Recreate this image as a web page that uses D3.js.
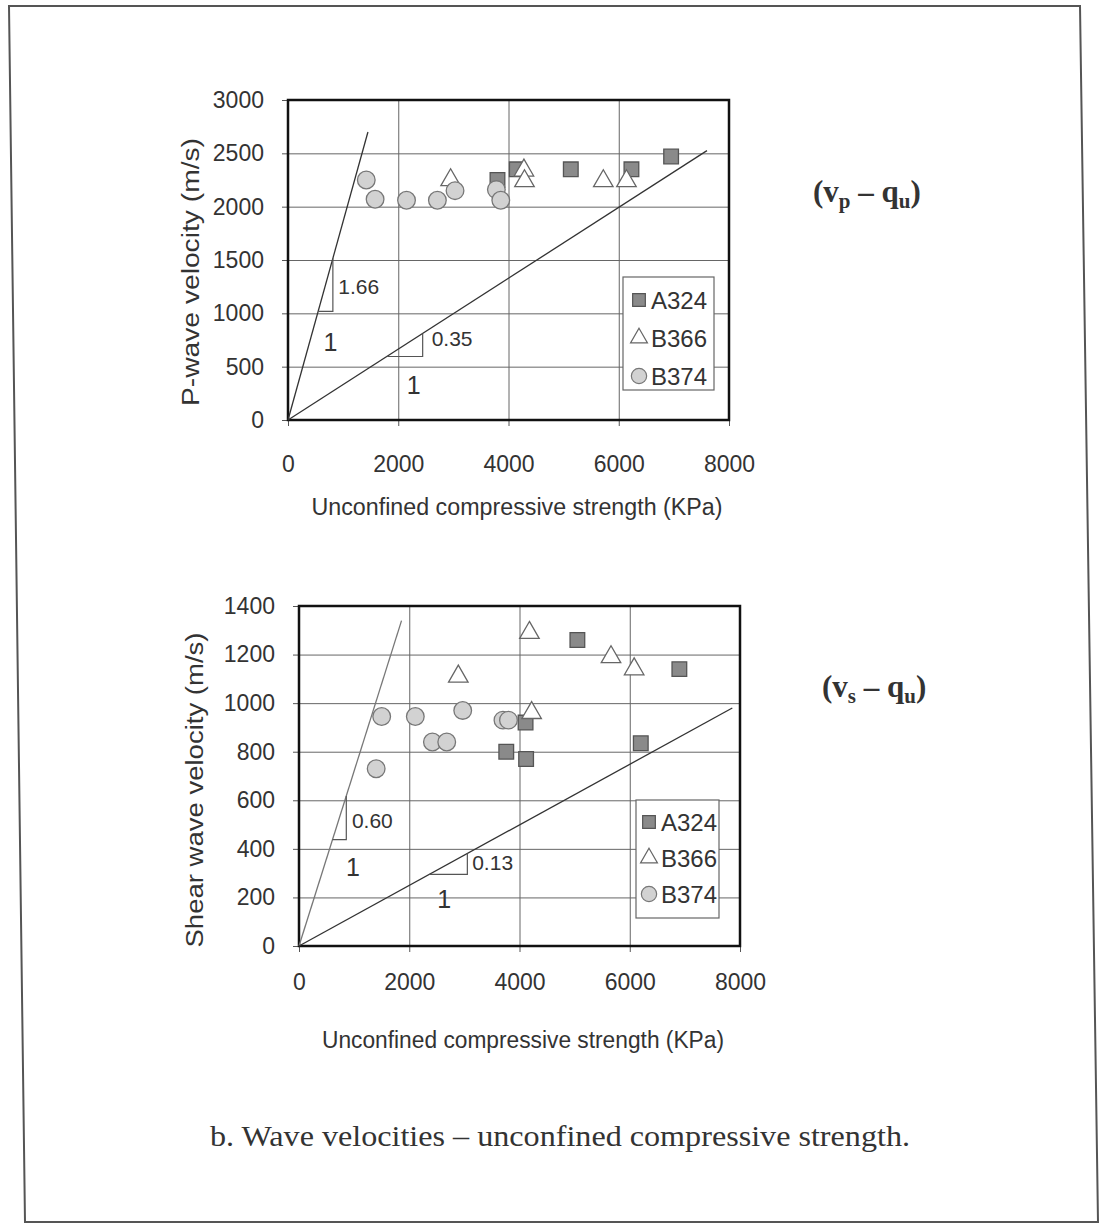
<!DOCTYPE html>
<html>
<head>
<meta charset="utf-8">
<script src="https://cdn.jsdelivr.net/npm/d3@7"></script>
<style>
  body { margin: 0; background: #fff; }
  svg text { font-family: "Liberation Sans", Arial, sans-serif; fill: #333; }
</style>
</head>
<body>
<svg id="chart" width="1118" height="1225"></svg>
<script>
// ---- data ----
const seriesNames = ['A324', 'B366', 'B374'];
const xTicks = [0, 2000, 4000, 6000, 8000];
const vpTicks = [0, 500, 1000, 1500, 2000, 2500, 3000];
const vsTicks = [0, 200, 400, 600, 800, 1000, 1200, 1400];

// P-wave velocity vs qu  [qu (KPa), vp (m/s)]
const vpA324 = [[3800, 2250], [4150, 2350], [5130, 2350], [6230, 2350], [6950, 2470]];
const vpB366 = [[2950, 2250], [4280, 2340], [4290, 2240], [5720, 2240], [6140, 2240]];
const vpB374 = [[1420, 2250], [1580, 2070], [2150, 2060], [2710, 2060], [3030, 2150], [3780, 2160], [3860, 2060]];

// Shear wave velocity vs qu  [qu (KPa), vs (m/s)]
const vsA324 = [[5050, 1260], [6900, 1140], [4110, 920], [3760, 800], [4120, 770], [6200, 835]];
const vsB366 = [[4180, 1290], [2890, 1110], [5660, 1190], [6080, 1140], [4220, 960]];
const vsB374 = [[1400, 730], [1500, 945], [2110, 945], [2420, 840], [2680, 840], [2970, 970], [3700, 930], [3800, 930]];

// bounding lines through the origin: end point [qu, v]
const vpLineEnds = [[1450, 2700], [7600, 2525]];
const vsLineEnds = [[1860, 1340], [7860, 980]];

// slope triangles: [line index, x start, x end]
const vpTriangles = [[0, 547, 814], [1, 1792, 2443]];
const vsTriangles = [[0, 608, 858], [1, 2365, 3054]];

// slope labels: [text, qu, v, kind]
const vpSlopeLabels = [['1.66', 912, 1250, 'rise'], ['1', 769, 725, 'run'], ['0.35', 2606, 765, 'rise'], ['1', 2280, 324, 'run']];
const vsSlopeLabels = [['0.60', 960, 517, 'rise'], ['1', 980, 324, 'run'], ['0.13', 3142, 345, 'rise'], ['1', 2635, 193, 'run']];

const svg = d3.select('#chart');

// outer frame of the scanned page
svg.append('polygon')
  .attr('points', '9,6 1080,6 1098,1222 25,1222')
  .attr('fill', 'none')
  .attr('stroke', '#555')
  .attr('stroke-width', 2);

const markerStyle = {
  A324: {type: d3.symbolSquare, size: 215, fill: '#8a8a8a', stroke: '#555'},
  B366: {type: d3.symbolTriangle, size: 165, fill: '#fff', stroke: '#666'},
  B374: {type: d3.symbolCircle, size: 245, fill: '#d2d2d2', stroke: '#777'}
};

function drawPanel(cfg) {
  const x = d3.scaleLinear().domain([0, 8000]).range([cfg.left, cfg.right]);
  const y = d3.scaleLinear().domain([0, cfg.yMax]).range([cfg.bottom, cfg.top]);
  const g = svg.append('g');

  // grid
  g.append('g')
    .attr('transform', `translate(${cfg.left},0)`)
    .call(d3.axisLeft(y).tickValues(cfg.yTicks).tickSize(-(cfg.right - cfg.left)).tickFormat(''))
    .call(s => s.select('.domain').remove())
    .selectAll('line').attr('stroke', '#666').attr('stroke-width', 1);
  g.append('g')
    .attr('transform', `translate(0,${cfg.top})`)
    .call(d3.axisTop(x).tickValues(xTicks.slice(1, -1)).tickSize(-(cfg.bottom - cfg.top)).tickFormat(''))
    .call(s => s.select('.domain').remove())
    .selectAll('line').attr('stroke', '#666').attr('stroke-width', 1);

  // axes
  const xa = g.append('g')
    .attr('transform', `translate(0,${cfg.bottom})`)
    .call(d3.axisBottom(x).tickValues(xTicks).tickFormat(d3.format('d')).tickSize(6).tickPadding(cfg.xPad));
  const ya = g.append('g')
    .attr('transform', `translate(${cfg.left},0)`)
    .call(d3.axisLeft(y).tickValues(cfg.yTicks).tickFormat(d3.format('d')).tickSize(6).tickPadding(18));
  [xa, ya].forEach(a => {
    a.select('.domain').remove();
    a.selectAll('line').attr('stroke', '#555');
    a.selectAll('text').style('font-size', '23px').attr('fill', '#333');
  });

  // frame
  g.append('rect')
    .attr('x', cfg.left).attr('y', cfg.top)
    .attr('width', cfg.right - cfg.left).attr('height', cfg.bottom - cfg.top)
    .attr('fill', 'none').attr('stroke', '#111').attr('stroke-width', 2.5);

  // bounding lines
  g.selectAll('line.bound').data(cfg.lineEnds).join('line')
    .attr('class', 'bound')
    .attr('x1', x(0)).attr('y1', y(0))
    .attr('x2', d => x(d[0])).attr('y2', d => y(d[1]))
    .attr('stroke', (d, i) => cfg.lineColors[i])
    .attr('stroke-width', 1.3);

  // slope triangles
  g.selectAll('path.tri').data(cfg.triangles).join('path')
    .attr('class', 'tri')
    .attr('d', d => {
      const e = cfg.lineEnds[d[0]];
      const k = e[1] / e[0];
      return `M${x(d[1])},${y(k * d[1])}H${x(d[2])}V${y(k * d[2])}`;
    })
    .attr('fill', 'none').attr('stroke', '#555').attr('stroke-width', 1.2);

  g.selectAll('text.slope').data(cfg.slopeLabels).join('text')
    .attr('class', 'slope')
    .attr('x', d => x(d[1])).attr('y', d => y(d[2]))
    .attr('dy', '0.35em')
    .attr('text-anchor', d => d[3] === 'run' ? 'middle' : 'start')
    .style('font-size', d => d[3] === 'run' ? '25px' : '21px')
    .attr('fill', d => d[3] === 'run' ? '#333' : '#666')
    .text(d => d[0]);

  // markers
  cfg.series.forEach((pts, i) => {
    const st = markerStyle[seriesNames[i]];
    g.append('g').selectAll('path').data(pts).join('path')
      .attr('transform', d => `translate(${x(d[0])},${y(d[1])})`)
      .attr('d', d3.symbol(st.type, st.size))
      .attr('fill', st.fill).attr('stroke', st.stroke).attr('stroke-width', 1.3);
  });

  // legend
  const lg = g.append('g');
  lg.append('rect')
    .attr('x', cfg.legend.x).attr('y', cfg.legend.y)
    .attr('width', cfg.legend.w).attr('height', cfg.legend.h)
    .attr('fill', '#fff').attr('stroke', '#666').attr('stroke-width', 1.2);
  seriesNames.forEach((name, i) => {
    const st = markerStyle[name];
    const ry = cfg.legend.rows[i];
    lg.append('path')
      .attr('transform', `translate(${cfg.legend.mx},${ry})`)
      .attr('d', d3.symbol(st.type, st.size * 0.75))
      .attr('fill', st.fill).attr('stroke', st.stroke).attr('stroke-width', 1.2);
    lg.append('text')
      .attr('x', cfg.legend.tx).attr('y', ry).attr('dy', '0.36em')
      .style('font-size', '24px')
      .text(name);
  });

  // axis titles
  g.append('text')
    .attr('x', cfg.xTitle[0]).attr('y', cfg.xTitle[1])
    .attr('text-anchor', 'middle')
    .attr('textLength', cfg.xTitle[2]).attr('lengthAdjust', 'spacingAndGlyphs')
    .style('font-size', '23px')
    .text('Unconfined compressive strength (KPa)');
  g.append('text')
    .attr('transform', `translate(${cfg.yTitle[0]},${cfg.yTitle[1]}) rotate(-90)`)
    .attr('text-anchor', 'middle')
    .attr('textLength', cfg.yTitle[2]).attr('lengthAdjust', 'spacingAndGlyphs')
    .style('font-size', '23px')
    .text(cfg.yTitleText);

  // relation label
  const rl = g.append('text')
    .attr('x', cfg.relation[0]).attr('y', cfg.relation[1])
    .style('font-family', '"Liberation Serif", "Times New Roman", serif')
    .style('font-weight', 'bold')
    .style('font-size', '31px')
    .attr('fill', '#222');
  rl.append('tspan').text('(v');
  rl.append('tspan').attr('dy', 6).style('font-size', '21px').text(cfg.relationSub);
  rl.append('tspan').attr('dy', -6).text(' \u2013 q');
  rl.append('tspan').attr('dy', 6).style('font-size', '21px').text('u');
  rl.append('tspan').attr('dy', -6).text(')');
}

drawPanel({
  left: 288, right: 729, top: 100, bottom: 420,
  yMax: 3000, yTicks: vpTicks, xPad: 30,
  series: [vpA324, vpB366, vpB374],
  lineEnds: vpLineEnds, lineColors: ['#333', '#333'],
  triangles: vpTriangles, slopeLabels: vpSlopeLabels,
  legend: {x: 623, y: 277, w: 91, h: 113, rows: [300, 338, 376], mx: 639, tx: 651},
  xTitle: [517, 515, 411],
  yTitle: [199, 272, 268], yTitleText: 'P-wave velocity (m/s)',
  relation: [813, 202], relationSub: 'p'
});

drawPanel({
  left: 299, right: 740, top: 606, bottom: 946,
  yMax: 1400, yTicks: vsTicks, xPad: 22,
  series: [vsA324, vsB366, vsB374],
  lineEnds: vsLineEnds, lineColors: ['#777', '#333'],
  triangles: vsTriangles, slopeLabels: vsSlopeLabels,
  legend: {x: 636, y: 800, w: 83, h: 118, rows: [822, 858, 894], mx: 649, tx: 661},
  xTitle: [523, 1048, 402],
  yTitle: [203, 790, 315], yTitleText: 'Shear wave velocity (m/s)',
  relation: [822, 697], relationSub: 's'
});

// caption
svg.append('text')
  .attr('x', 210).attr('y', 1146)
  .attr('textLength', 700).attr('lengthAdjust', 'spacingAndGlyphs')
  .style('font-family', '"Liberation Serif", "Times New Roman", serif')
  .style('font-size', '30px')
  .attr('fill', '#222')
  .text('b.  Wave velocities \u2013 unconfined compressive strength.');
</script>
</body>
</html>
